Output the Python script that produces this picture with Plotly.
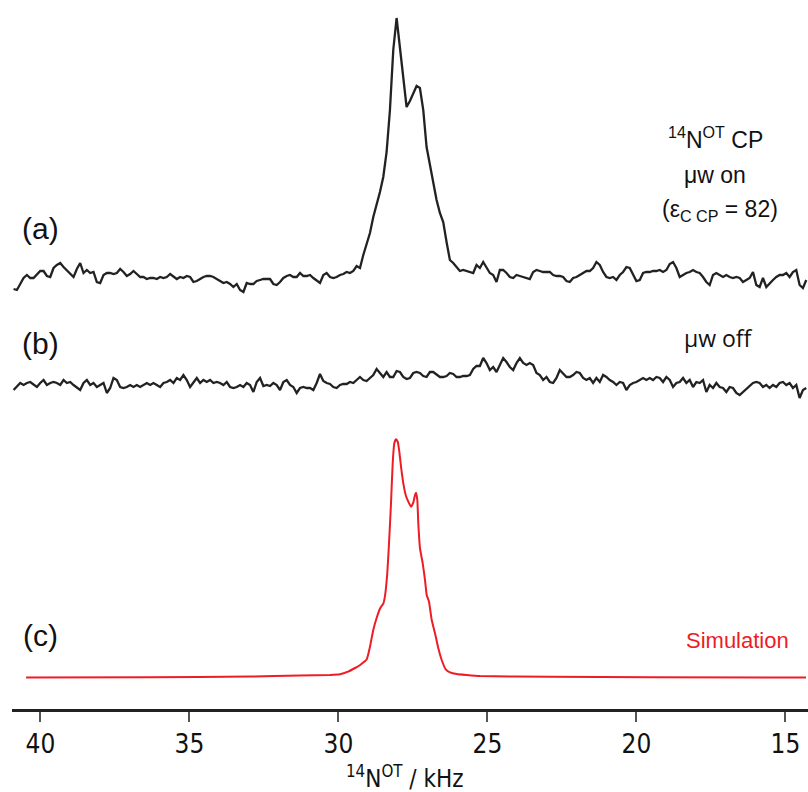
import numpy as np
import plotly.graph_objects as go

# ---------------- data ----------------
# frequency grid of the two measured spectra (kHz)
freq_khz = np.linspace(40.9, 14.3, 239)

# (a) 14N-OT CP, microwave on (arbitrary units, baseline = 0)
spec_a = [
    -11, -12, -6, 0, 3, 0, 0, 4, 7, 7,
    2, 1, 10, 13, 15, 11, 8, 5, 1, 9,
    15, 5, 8, 5, 6, -4, -5, 3, 5, 5,
    4, 5, 9, 6, 2, 4, 7, 4, 1, 1,
    -1, 0, 0, -1, 1, 0, 1, 4, 1, -1,
    1, 0, 2, 1, -4, -3, -1, 1, 2, 2,
    1, -1, -3, -5, -4, -6, -9, -6, -12, -14,
    -5, -6, -6, -3, -2, -1, -1, -1, -6, -7,
    -4, 0, 2, 3, 1, 1, 5, 2, 2, 3,
    0, -3, -5, 3, 5, 1, 0, 1, 3, 4,
    6, 5, 7, 12, 10, 23, 35, 45, 61, 73,
    86, 101, 126, 168, 228, 260, 228, 198, 171, 177,
    185, 192, 190, 168, 131, 113, 93, 78, 65, 56,
    36, 18, 15, 11, 7, 8, 7, 6, 5, 13,
    10, 16, 11, 5, 3, -4, 8, 8, 5, 1,
    0, 3, 2, 1, 0, -1, 6, 8, 7, 6,
    6, 6, 3, 2, 2, 1, -3, -4, 0, 1,
    3, 5, 7, 7, 10, 16, 13, 6, 1, 0,
    1, -2, 3, 6, 11, 10, 3, -3, -2, 5,
    6, 6, 7, 7, 8, 6, 8, 14, 16, 10,
    1, 3, 5, 6, 8, 6, 5, 1, -4, -7,
    3, 5, 3, 1, 3, 1, 0, 1, 0, -4,
    -2, 0, 6, -7, -9, 0, -9, -5, -2, 1,
    3, 3, 5, 1, 6, 8, -7, -10, -2,
]

# (b) microwave off
spec_b = [
    -5, -2, 2, 0, 2, 3, 0, -2, 2, 5,
    0, 2, 3, 2, 0, 5, 2, 3, 0, -3,
    -5, 2, 5, 0, 2, -2, 0, 2, -8, -3,
    7, 5, -2, -3, -2, 0, -2, 0, -2, 0,
    2, 0, 2, 0, -2, 2, 3, 5, 2, 7,
    5, 10, 5, -2, 3, 7, 2, 5, 3, 5,
    2, 3, 2, 0, 3, -2, -3, -2, 0, -2,
    2, 0, -7, 3, 7, -1, 0, -1, 2, 0,
    -5, 3, 5, 0, -2, -8, -3, -2, -3, -3,
    -5, 2, 11, 4, 2, 1, -2, -3, 0, 1,
    1, 3, 2, 5, 8, 5, 4, 7, 10, 16,
    12, 8, 13, 8, 8, 14, 13, 8, 6, 7,
    12, 13, 12, 9, 8, 13, 13, 10, 8, 8,
    9, 12, 11, 8, 8, 9, 9, 10, 16, 19,
    19, 27, 22, 15, 18, 13, 20, 27, 23, 18,
    15, 22, 27, 22, 20, 22, 20, 12, 10, 5,
    8, 3, 2, 7, 15, 12, 8, 8, 10, 13,
    12, 7, 5, 7, 2, 7, 3, 10, 8, 5,
    3, 0, 3, 2, -5, 0, 2, 3, 5, 7,
    5, 7, 5, 8, 7, 3, 8, 5, -2, 2,
    3, 7, 2, 5, -2, 3, 2, 5, -7, 0,
    -3, 2, -2, -3, -7, -2, -3, -8, -10, -7,
    -3, 0, 2, 3, 2, -2, 0, -3, 0, -2,
    2, 3, 0, 2, -3, 0, -13, -5, -3,
]

# (c) simulation
sim_khz = [40.48, 36.32, 32.97, 31.29, 30.28, 29.95, 29.68, 29.44, 29.27, 29.05,
           28.94, 28.83, 28.72, 28.60, 28.49, 28.44, 28.36, 28.29, 28.235, 28.178,
           28.124, 28.067, 28.01, 27.956, 27.899, 27.822, 27.732, 27.654, 27.564, 27.487,
           27.43, 27.396, 27.352, 27.319, 27.262, 27.171, 27.094, 27.037, 26.96, 26.869,
           26.758, 26.648, 26.534, 26.399, 26.255, 26.03, 25.695, 25.248, 22.9, 19.544,
           14.309]
sim_int = [0, 0.2, 1.0, 2.0, 2.5, 3.2, 5.8, 9.5, 12.5, 18.2,
           30.8, 47.5, 59.2, 69.2, 74.2, 80.8, 104.2, 140.8, 174.2, 214.2,
           234.2, 238.2, 235.8, 225.8, 210.8, 194.2, 181.5, 175.8, 170.8, 174.8,
           182.5, 184.8, 177.5, 154.2, 129.2, 114.2, 97.5, 82.5, 75.8, 57.5,
           44.2, 29.2, 17.5, 8.2, 5.2, 3.5, 2.5, 1.5, 0.7, 0.3,
           0]

tick_vals = [40, 35, 30, 25, 20, 15]

# vertical stacking offsets of the three spectra
off_a, off_b, off_c = 431, 324, 31.5

BLACK = "#222222"
RED = "#ee1c25"

fig = go.Figure()
fig.add_trace(go.Scatter(x=freq_khz, y=np.array(spec_a) + off_a, mode="lines",
                         line=dict(color=BLACK, width=2.3), hoverinfo="skip"))
fig.add_trace(go.Scatter(x=freq_khz, y=np.array(spec_b) + off_b, mode="lines",
                         line=dict(color=BLACK, width=2.3), hoverinfo="skip"))
fig.add_trace(go.Scatter(x=sim_khz, y=np.array(sim_int) + off_c, mode="lines",
                         line=dict(color=RED, width=2, shape="spline", smoothing=0.4),
                         hoverinfo="skip"))

lab_font = dict(family="Liberation Sans, Arial, sans-serif", size=30, color="#111")
txt_font = dict(family="Liberation Sans, Arial, sans-serif", size=23, color="#111")
NARROW = "Liberation Sans Narrow, Arial Narrow, DejaVu Sans Condensed, Liberation Sans, sans-serif"
ann = [
    dict(x=40.01, y=481, text="(a)", font=lab_font),
    dict(x=40.01, y=366, text="(b)", font=lab_font),
    dict(x=40.01, y=74, text="(c)", font=lab_font),
    dict(x=17.36, y=571, text="<sup>14</sup>N<sup>OT</sup> CP", font=txt_font),
    dict(x=17.36, y=534, text="μw on", font=txt_font),
    dict(x=17.2, y=499, text="(ε<sub>C CP</sub> = 82)", font=txt_font),
    dict(x=17.26, y=371, text="μw off",
         font=dict(family="Open Sans, sans-serif", size=23, color="#111")),
    dict(x=16.62, y=69, text="Simulation",
         font=dict(family="Liberation Sans, Arial, sans-serif", size=22, color=RED)),
]
for a in ann:
    a.update(xref="x", yref="y", showarrow=False, xanchor="center", yanchor="middle")
ann.append(dict(xref="paper", yref="paper", x=0.494, y=-0.096, showarrow=False,
                xanchor="center", yanchor="middle",
                text="<sup>14</sup>N<sup>OT</sup> / kHz",
                font=dict(family=NARROW, size=24, color="#111")))

fig.update_layout(
    width=808, height=792,
    margin=dict(l=12, r=0, t=0, b=83, pad=0),
    paper_bgcolor="white", plot_bgcolor="white",
    showlegend=False,
    annotations=ann,
    xaxis=dict(range=[40.953, 14.242], tickvals=tick_vals, ticks="outside",
               ticklen=10, tickwidth=1.5, tickcolor="#555",
               showline=True, linewidth=2.5, linecolor="#222",
               showgrid=False, zeroline=False,
               tickfont=dict(family=NARROW, size=26, color="#111")),
    yaxis=dict(range=[0, 709], visible=False, showgrid=False, zeroline=False),
)

fig.write_html("out.html")
